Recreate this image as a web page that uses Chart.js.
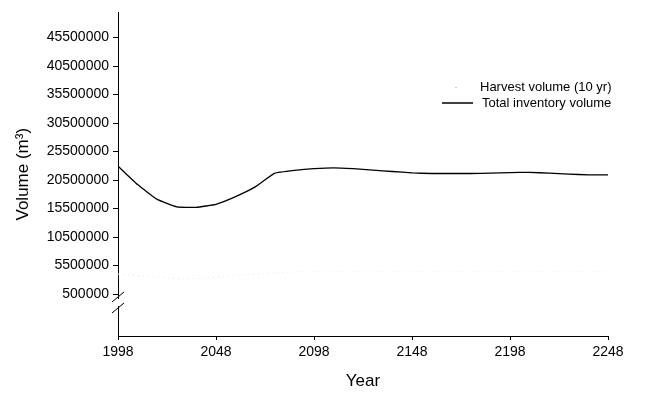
<!DOCTYPE html>
<html>
<head>
<meta charset="utf-8">
<script src="https://cdn.jsdelivr.net/npm/chart.js@4.4.1/dist/chart.umd.min.js"></script>
<style>
  body { margin: 0; background: #fff; }
  canvas { display: block; }
</style>
</head>
<body>
<canvas id="chart" width="668" height="394"></canvas>
<script>
// Data
const years = [1998, 2008, 2018, 2028, 2038, 2048, 2058, 2068, 2078, 2088, 2098, 2108, 2118,
    2128, 2138, 2148, 2158, 2168, 2178, 2188, 2198, 2208, 2218, 2228, 2238, 2248];
const totalInventory = [22950000, 19700000, 17100000, 15800000, 15700000, 16250000, 17600000,
    19300000, 21700000, 22200000, 22500000, 22650000, 22500000, 22250000, 22000000, 21750000,
    21650000, 21650000, 21650000, 21700000, 21800000, 21850000, 21700000, 21550000, 21400000, 21400000];
const harvestVolume = [4000000, 3800000, 3500000, 3200000, 3200000, 3500000, 3800000, 4000000,
    4200000, 4400000, 4400000, 4400000, 4400000, 4400000, 4400000, 4400000, 4400000, 4400000,
    4400000, 4400000, 4400000, 4400000, 4400000, 4400000, 4400000, 4400000];
const xTicks = [1998, 2048, 2098, 2148, 2198, 2248];
const yTicks = [500000, 5500000, 10500000, 15500000, 20500000, 25500000, 30500000, 35500000, 40500000, 45500000];

const FONT = '"Liberation Sans", Arial, sans-serif';

// Axis break marks on the y axis
const axisBreak = {
    id: 'axisBreak',
    afterDraw(chart) {
        const ctx = chart.ctx;
        const x = chart.chartArea.left;
        ctx.save();
        ctx.fillStyle = '#fff';
        ctx.fillRect(x - 2, 299, 4, 7);
        ctx.strokeStyle = '#000';
        ctx.lineWidth = 1;
        ctx.beginPath();
        ctx.moveTo(x - 6, 302); ctx.lineTo(x + 6, 292);
        ctx.moveTo(x - 6, 313); ctx.lineTo(x + 6, 303);
        ctx.stroke();
        ctx.restore();
    }
};

// Legend drawn where the original has it
const customLegend = {
    id: 'customLegend',
    afterDraw(chart) {
        const ctx = chart.ctx;
        const ds = chart.data.datasets;
        ctx.save();
        ctx.font = '13px ' + FONT;
        ctx.textBaseline = 'middle';
        // harvest
        ctx.fillStyle = '#cfcfcf';
        ctx.fillRect(455, 87, 2, 1);
        ctx.fillStyle = '#000';
        ctx.fillText(ds[0].label, 480, 87);
        // total
        ctx.strokeStyle = '#000';
        ctx.lineWidth = 1.5;
        ctx.beginPath();
        ctx.moveTo(442, 103); ctx.lineTo(473, 103);
        ctx.stroke();
        ctx.fillText(ds[1].label, 482, 103);
        ctx.restore();
    }
};

new Chart(document.getElementById('chart'), {
    type: 'line',
    data: {
        labels: years,
        datasets: [
            {
                label: 'Harvest volume (10 yr)',
                data: years.map((y, i) => ({ x: y, y: harvestVolume[i] })),
                borderColor: '#e6e6e6',
                borderWidth: 1,
                borderDash: [1, 4],
                pointRadius: 0,
                fill: false
            },
            {
                label: 'Total inventory volume',
                data: years.map((y, i) => ({ x: y, y: totalInventory[i] })),
                borderColor: '#000',
                borderWidth: 1.3,
                pointRadius: 0,
                tension: 0.1,
                fill: false
            }
        ]
    },
    options: {
        responsive: false,
        animation: false,
        devicePixelRatio: 1,
        layout: { padding: { left: 0, right: 60, top: 10, bottom: 0 } },
        plugins: {
            legend: { display: false },
            tooltip: { enabled: false }
        },
        scales: {
            x: {
                type: 'linear',
                min: 1998,
                max: 2248,
                afterBuildTicks: scale => { scale.ticks = xTicks.map(v => ({ value: v })); },
                afterFit: scale => { scale.height = 58; },
                border: { display: true, color: '#000', width: 1 },
                grid: { display: true, drawOnChartArea: false, drawTicks: true, tickLength: 4, color: '#000' },
                ticks: {
                    color: '#000',
                    padding: 4,
                    maxRotation: 0,
                    font: { family: FONT, size: 14 },
                    callback: v => String(v)
                },
                title: {
                    display: true,
                    text: 'Year',
                    color: '#000',
                    font: { family: FONT, size: 17 },
                    padding: { top: 0, bottom: 2 }
                }
            },
            y: {
                type: 'linear',
                min: -6850000,
                max: 49900000,
                afterBuildTicks: scale => { scale.ticks = yTicks.map(v => ({ value: v })); },
                afterFit: scale => { scale.width = 118; },
                border: { display: true, color: '#000', width: 1 },
                grid: { display: true, drawOnChartArea: false, drawTicks: true, tickLength: 5, color: '#000' },
                ticks: {
                    color: '#000',
                    padding: 4,
                    font: { family: FONT, size: 14 },
                    callback: v => String(v)
                },
                title: {
                    display: true,
                    text: 'Volume (m³)',
                    color: '#000',
                    font: { family: FONT, size: 17 },
                    padding: { top: 13, bottom: 0 }
                }
            }
        }
    },
    plugins: [axisBreak, customLegend]
});
</script>
</body>
</html>
